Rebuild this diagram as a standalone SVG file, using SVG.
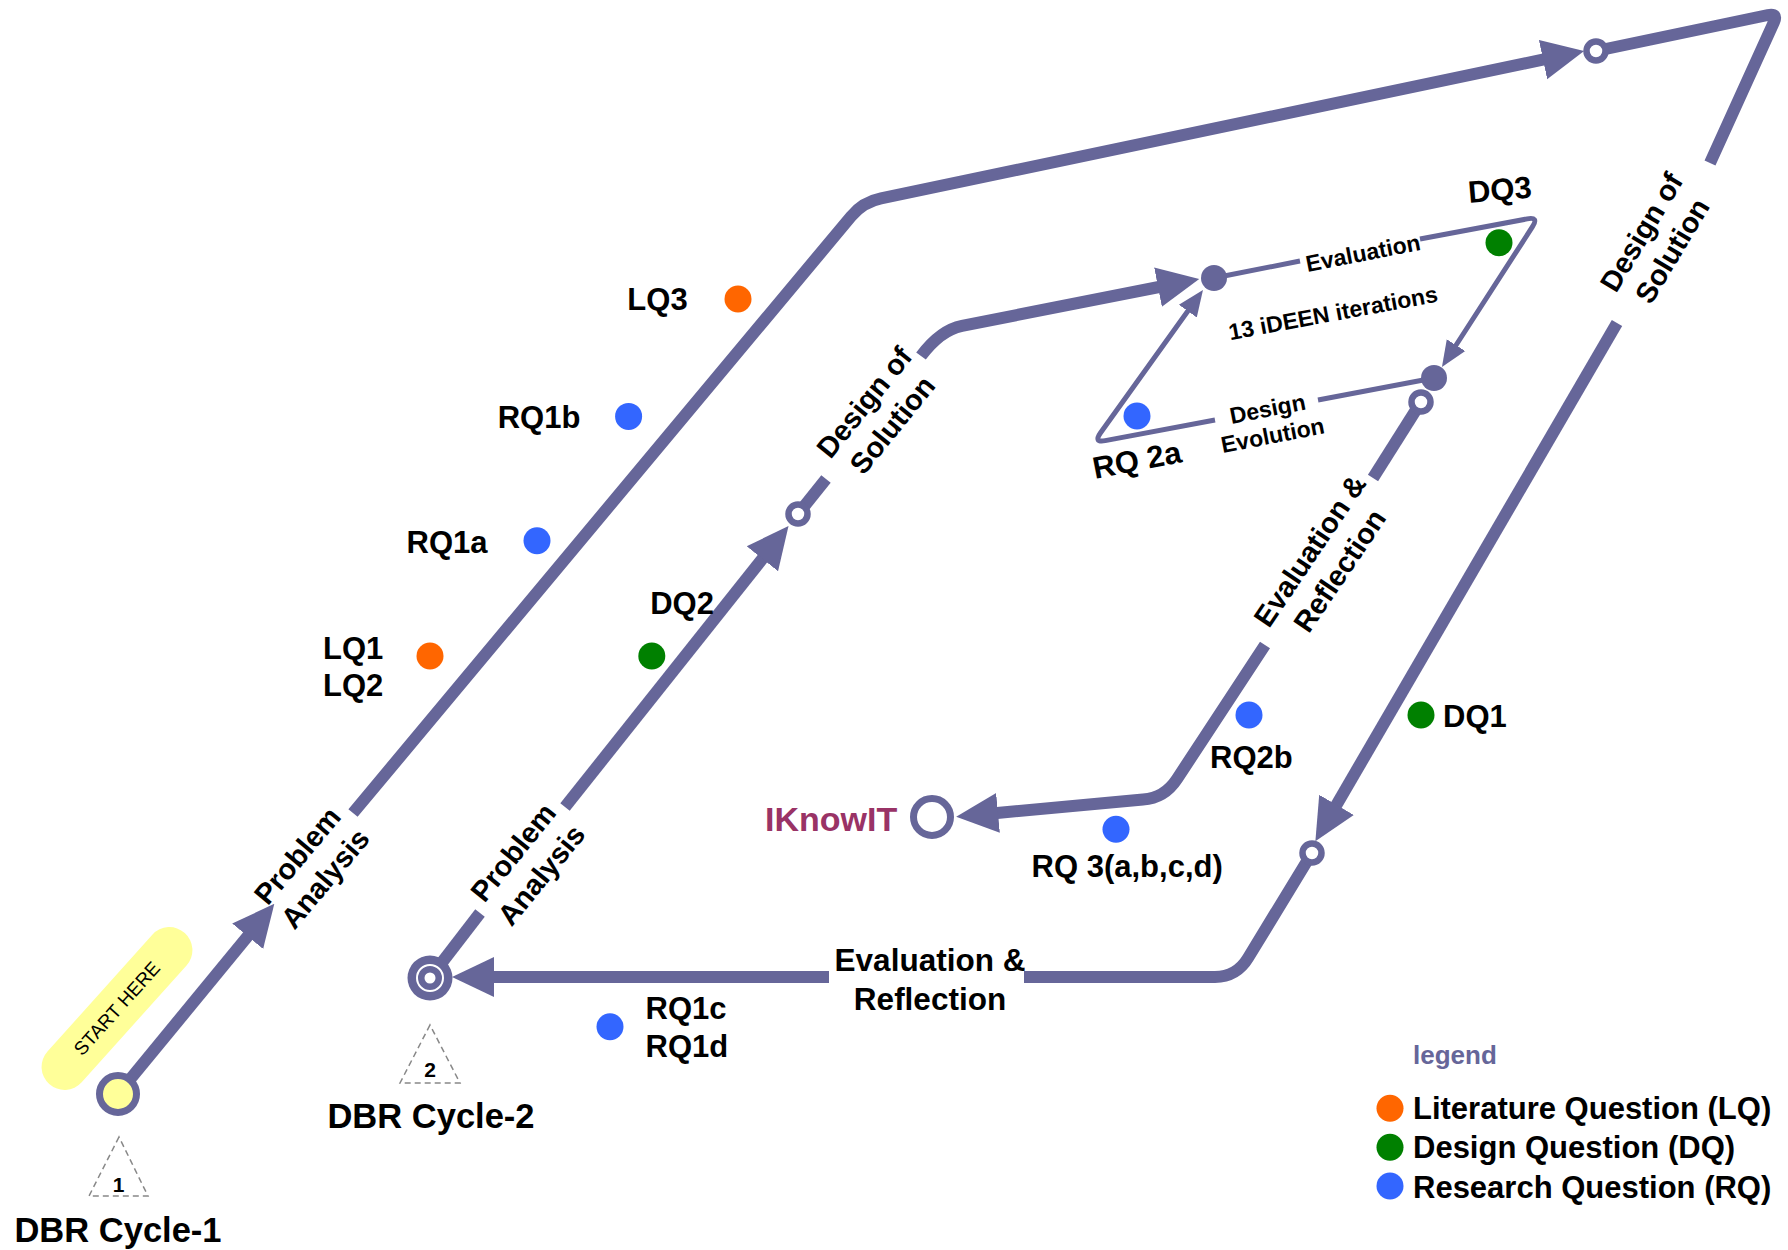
<svg xmlns="http://www.w3.org/2000/svg" width="1788" height="1250" viewBox="0 0 1788 1250">
<defs>
<style>
.thick{fill:none;stroke:#666699;stroke-width:12;stroke-linejoin:round}
.thin{fill:none;stroke:#666699;stroke-width:5;stroke-linejoin:round}
.t{font-family:"Liberation Sans",Arial,Helvetica,sans-serif;font-weight:bold;fill:#000}
.s30{font-size:31px}
.pl{font-size:29px;text-anchor:middle}
.il{font-size:23px;text-anchor:middle}
.o{fill:#ff6600}.g{fill:#008000}.b{fill:#3366ff}
.stop{fill:#fff;stroke:#666699;stroke-width:6.5}
.node{fill:#666699}
.tri{fill:none;stroke:#888;stroke-width:1.5;stroke-dasharray:6 4}
</style>
<marker id="ah" markerUnits="userSpaceOnUse" viewBox="0 -21 42 42" markerWidth="42" markerHeight="42" refX="1" refY="0" orient="auto"><path d="M0,-20 L42,0 L0,20 Z" fill="#666699"/></marker>
<marker id="ahs" markerUnits="userSpaceOnUse" viewBox="0 -12 26 24" markerWidth="26" markerHeight="24" refX="1" refY="0" orient="auto"><path d="M0,-11 L26,0 L0,11 Z" fill="#666699"/></marker>
</defs>
<rect width="1788" height="1250" fill="#fff"/>

<g id="start-here">
<rect x="15.5" y="985.5" width="203" height="46" rx="23" fill="#ffff99" transform="rotate(-48.1 117 1008.5)"/>
<text x="117" y="1015" font-family="Liberation Sans,Arial,sans-serif" font-size="19" text-anchor="middle" transform="rotate(-48.1 117 1008.5)">START HERE</text>
</g>

<g id="connectors">
<path class="thick" d="M118,1094 L248.3,935.5" marker-end="url(#ah)"/>
<path class="thick" d="M353,813 L851,216.5 Q863,202 881,198.4 L1544,59.4" marker-end="url(#ah)"/>
<path class="thick" d="M1596,51 L1768,15 Q1778,13 1774,22 L1710,163"/>
<path class="thick" d="M1617,323 L1336,805.7" marker-end="url(#ah)"/>
<path class="thick" d="M1312,853 L1248,958 Q1236.6,976.8 1215,977 L1024,977"/>
<path class="thick" d="M829,977 L493,977" marker-end="url(#ah)"/>
<path class="thick" d="M430,978 L480,913"/>
<path class="thick" d="M565,807 L763,558" marker-end="url(#ah)"/>
<path class="thick" d="M798,514 L826,479"/>
<path class="thick" d="M921,356 Q940.4,330.1 962,325.8 L1159,287" marker-end="url(#ah)"/>
<path class="thin" d="M1214,278 L1300,261"/>
<path class="thin" d="M1420,239 L1527.2,218.9 Q1539,216.6 1532.5,226.7 L1455.5,346" marker-end="url(#ahs)"/>
<path class="thin" d="M1434,378 L1318,400"/>
<path class="thin" d="M1215,420 L1105.2,440.6 Q1093.4,442.8 1100.4,433 L1188.4,310.3" marker-end="url(#ahs)"/>
<path class="thick" d="M1421,402 L1373,478"/>
<path class="thick" d="M1265,645 L1177,779 Q1164.4,798.2 1143,799.5 L997,813" marker-end="url(#ah)"/>
</g>

<g id="path-labels" class="t">
<text class="pl" transform="translate(310.5 866.5) rotate(-50)"><tspan x="0" y="-7">Problem</tspan><tspan x="0" y="29">Analysis</tspan></text>
<text class="pl" transform="translate(526.5 863) rotate(-51)"><tspan x="0" y="-7">Problem</tspan><tspan x="0" y="29">Analysis</tspan></text>
<text class="pl" transform="translate(877.5 413) rotate(-51)"><tspan x="0" y="-7">Design of</tspan><tspan x="0" y="29">Solution</tspan></text>
<text class="pl" transform="translate(1656 241) rotate(-59)"><tspan x="0" y="-7">Design of</tspan><tspan x="0" y="29">Solution</tspan></text>
<text class="pl" transform="translate(1324 560) rotate(-56)"><tspan x="0" y="-7">Evaluation &amp;</tspan><tspan x="0" y="29">Reflection</tspan></text>
<text class="pl" style="font-size:31.5px"><tspan x="930" y="971">Evaluation &amp;</tspan><tspan x="930" y="1010">Reflection</tspan></text>
<text class="il" transform="translate(1363 253) rotate(-11)"><tspan x="0" y="8">Evaluation</tspan></text>
<text class="il" transform="translate(1333 313) rotate(-10.5)"><tspan x="0" y="8">13 iDEEN iterations</tspan></text>
<text class="il" transform="translate(1270 421.5) rotate(-11)"><tspan x="0" y="-5">Design</tspan><tspan x="0" y="22">Evolution</tspan></text>
</g>

<g id="node-start1"><circle cx="118" cy="1094" r="18.5" fill="#ffff99" stroke="#666699" stroke-width="7"/></g>
<g id="node-start2">
<circle cx="430" cy="978" r="22.5" fill="#666699"/>
<circle cx="430" cy="978" r="13" fill="none" stroke="#fff" stroke-width="2"/>
<circle cx="430" cy="978" r="5.5" fill="#fff"/>
</g>
<g id="stop-top"><circle class="stop" cx="1596" cy="51" r="9.5"/></g>
<g id="stop-c2"><circle class="stop" cx="798" cy="514" r="9.5"/></g>
<g id="stop-right"><circle class="stop" cx="1312" cy="853" r="9.5"/></g>
<g id="node-a"><circle class="node" cx="1214" cy="278" r="13"/></g>
<g id="node-b"><circle class="node" cx="1434" cy="378" r="13"/></g>
<g id="stop-er"><circle class="stop" cx="1421" cy="402" r="9.5"/></g>
<g id="node-iknowit">
<circle cx="932" cy="817" r="18.5" fill="#fff" stroke="#666699" stroke-width="7"/>
<text x="765" y="831" font-family="Liberation Sans,Arial,sans-serif" font-weight="bold" font-size="34" fill="#993366">IKnowIT</text>
</g>

<g id="questions" class="t s30">
<circle class="o" cx="738" cy="299" r="13.5"/><text x="657.5" y="310" text-anchor="middle">LQ3</text>
<circle class="b" cx="628.6" cy="416.4" r="13.5"/><text x="539" y="427.5" text-anchor="middle">RQ1b</text>
<circle class="b" cx="537" cy="540.7" r="13.5"/><text x="447" y="552.5" text-anchor="middle">RQ1a</text>
<circle class="o" cx="430" cy="656" r="13.5"/><text x="323" y="658.6">LQ1</text><text x="323" y="696">LQ2</text>
<circle class="g" cx="651.8" cy="656" r="13.5"/><text x="682" y="614" text-anchor="middle">DQ2</text>
<circle class="b" cx="610" cy="1026.7" r="13.5"/><text x="645.6" y="1019">RQ1c</text><text x="645.6" y="1057">RQ1d</text>
<circle class="b" cx="1116" cy="829.3" r="13.5"/><text x="1031.6" y="876.7">RQ 3(a,b,c,d)</text>
<circle class="b" cx="1249" cy="715" r="13.5"/><text x="1210" y="768.3">RQ2b</text>
<circle class="g" cx="1421" cy="715" r="13.5"/><text x="1443" y="726.7">DQ1</text>
<circle class="g" cx="1499" cy="242.7" r="13.5"/><text transform="translate(1469 203) rotate(-5)">DQ3</text>
<circle class="b" cx="1137" cy="416" r="13.5"/><text transform="translate(1095 479) rotate(-11)">RQ 2a</text>
</g>

<g id="cycle1-label">
<polygon class="tri" points="119,1137 89,1196 148,1196"/>
<text class="t" x="118.5" y="1192" font-size="21" text-anchor="middle">1</text>
<text class="t" x="118" y="1242" font-size="34.5" text-anchor="middle">DBR Cycle-1</text>
</g>
<g id="cycle2-label">
<polygon class="tri" points="430,1025 400,1083 460,1083"/>
<text class="t" x="430" y="1077" font-size="21" text-anchor="middle">2</text>
<text class="t" x="431" y="1128" font-size="34.5" text-anchor="middle">DBR Cycle-2</text>
</g>

<g id="legend" class="t">
<text x="1413" y="1064" font-size="26" style="fill:#666699">legend</text>
<circle class="o" cx="1390" cy="1108.3" r="13.5"/><text x="1413" y="1119.3" font-size="31">Literature Question (LQ)</text>
<circle class="g" cx="1390" cy="1147.3" r="13.5"/><text x="1413" y="1158.3" font-size="31">Design Question (DQ)</text>
<circle class="b" cx="1390" cy="1186" r="13.5"/><text x="1413" y="1197.7" font-size="31">Research Question (RQ)</text>
</g>
</svg>
